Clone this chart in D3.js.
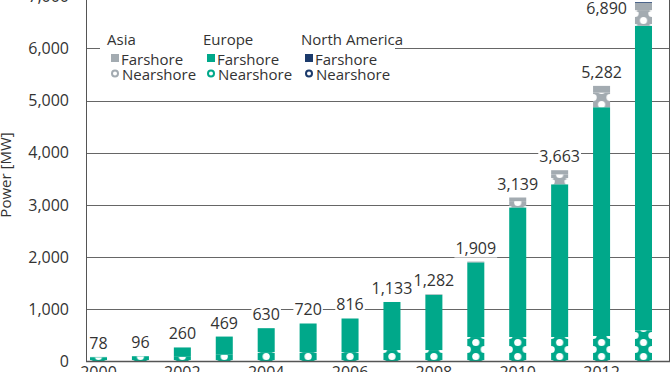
<!DOCTYPE html>
<html>
<head>
<meta charset="utf-8">
<script src="https://cdn.jsdelivr.net/npm/d3@7"></script>
<style>
  body { margin: 0; background: #fff; }
  text { font-family: "Open Sans", sans-serif; fill: #333; }
</style>
</head>
<body>
<svg id="chart" width="672" height="372"></svg>
<script>
// data
const years = [2000, 2001, 2002, 2003, 2004, 2005, 2006, 2007, 2008, 2009, 2010, 2011, 2012, 2013];
const totals = [78, 96, 260, 469, 630, 720, 816, 1133, 1282, 1909, 3139, 3663, 5282, 6890];
const europeNear = [70, 90, 80, 120, 170, 170, 170, 210, 210, 460, 460, 460, 480, 590];
const europeFar = [8, 6, 180, 349, 460, 550, 646, 923, 1062, 1434, 2489, 2933, 4392, 5847];
const asiaNear = [0, 0, 0, 0, 0, 0, 0, 0, 0, 0, 120, 190, 280, 300];
const asiaFar = [0, 0, 0, 0, 0, 0, 0, 0, 10, 15, 70, 80, 130, 138];
const naNear = [0, 0, 0, 0, 0, 0, 0, 0, 0, 0, 0, 0, 0, 0];
const naFar = [0, 0, 0, 0, 0, 0, 0, 0, 0, 0, 0, 0, 0, 15];
const yTicks = [0, 1000, 2000, 3000, 4000, 5000, 6000, 7000];
const xTickYears = [2000, 2002, 2004, 2006, 2008, 2010, 2012];

const GREEN = "#00a88a", GRAY = "#a3abb1", NAVY = "#1b3a6b";

const chart = d3.select("#chart");

// Scales
const xScale = d3.scaleBand()
      .domain(years)
      .range([90, 652])
      .paddingInner(0.594)
      .paddingOuter(0);
const bw = xScale.bandwidth();

const yScale = d3.scaleLinear()
      .domain([0, 7000])
      .range([361, -3.6]);

// patterns (one per region, anchored at each bar's own origin)
const defs = chart.append("defs");
function makePattern(id, color) {
      const p = defs.append("pattern")
            .attr("id", id)
            .attr("patternUnits", "userSpaceOnUse")
            .attr("width", bw)
            .attr("height", 14);
      p.append("rect").attr("width", bw).attr("height", 14).attr("fill", color);
      [[bw / 2, 9.5], [0, 2.5], [bw, 2.5], [0, 16.5], [bw, 16.5]].forEach(c => {
            p.append("circle").attr("cx", c[0]).attr("cy", c[1]).attr("r", 3.6).attr("fill", "#fff");
      });
}
makePattern("pat_eu", GREEN);
makePattern("pat_asia", GRAY);
makePattern("pat_na", NAVY);

// grid
const grid = chart.append("g");
grid.selectAll("line")
      .data(yTicks.filter(d => d > 0))
      .enter().append("line")
      .attr("x1", 86).attr("x2", 670)
      .attr("y1", d => Math.round(yScale(d)) + 0.5)
      .attr("y2", d => Math.round(yScale(d)) + 0.5)
      .attr("stroke", "#666").attr("stroke-width", 1);

// y axis labels
chart.append("g").selectAll("text")
      .data(yTicks)
      .enter().append("text")
      .attr("x", 69)
      .attr("y", d => yScale(d))
      .attr("dy", "0.36em")
      .attr("text-anchor", "end")
      .attr("font-size", "16px")
      .text(d => d3.format(",")(d));

chart.append("text")
      .attr("transform", "translate(11,175) rotate(-90)")
      .attr("text-anchor", "middle")
      .attr("font-size", "15px")
      .text("Power [MW]");

// Generate stacked bars
const layers = [
      { vals: europeNear, fill: "url(#pat_eu)" },
      { vals: europeFar, fill: GREEN },
      { vals: asiaNear, fill: "url(#pat_asia)" },
      { vals: asiaFar, fill: GRAY },
      { vals: naNear, fill: "url(#pat_na)" },
      { vals: naFar, fill: NAVY }
];
const y0 = yScale(0);
years.forEach((yr, i) => {
      const g = chart.append("g")
            .attr("transform", `translate(${xScale(yr)},${y0})`);
      let acc = 0;
      layers.forEach(l => {
            const v = l.vals[i];
            if (v <= 0) return;
            g.append("rect")
                  .attr("x", 0)
                  .attr("width", bw)
                  .attr("y", yScale(acc + v) - y0)
                  .attr("height", yScale(acc) - yScale(acc + v))
                  .attr("fill", l.fill);
            acc += v;
      });
});

// value labels with white background
const labels = chart.append("g");
years.forEach((yr, i) => {
      let cx = xScale(yr) + bw / 2;
      let ty = yScale(totals[i]) - 8;
      let anchor = "middle";
      // no room above the bar: put the label beside it
      if (ty < 16) {
            cx = xScale(yr) - 8;
            ty = 14;
            anchor = "end";
      }
      const t = labels.append("text")
            .attr("x", cx)
            .attr("y", ty)
            .attr("text-anchor", anchor)
            .attr("font-size", "16px")
            .text(d3.format(",")(totals[i]));
      const bb = t.node().getBBox();
      labels.insert("rect", "text")
            .attr("x", bb.x - 1).attr("y", bb.y + 2)
            .attr("width", bb.width + 2).attr("height", bb.height - 3)
            .attr("fill", "#fff");
});

// axes lines
chart.append("line").attr("x1", 86.5).attr("x2", 86.5).attr("y1", 0).attr("y2", 361)
      .attr("stroke", "#555");
chart.append("line").attr("x1", 669.5).attr("x2", 669.5).attr("y1", 0).attr("y2", 361)
      .attr("stroke", "#555");
chart.append("line").attr("x1", 86).attr("x2", 670).attr("y1", 361.5).attr("y2", 361.5)
      .attr("stroke", "#555").attr("stroke-width", 1.5);

// x labels (cut off at bottom)
chart.append("g").selectAll("text")
      .data(xTickYears)
      .enter().append("text")
      .attr("x", d => xScale(d) + bw / 2)
      .attr("y", 378)
      .attr("text-anchor", "middle")
      .attr("font-size", "16px")
      .text(d => d);

// Legend
const legend = chart.append("g");
legend.append("rect")
      .attr("x", 100).attr("y", 28).attr("width", 295).attr("height", 58)
      .attr("fill", "#fff");
const groups = [
      { name: "Asia", x: 107, color: GRAY },
      { name: "Europe", x: 203, color: GREEN },
      { name: "North America", x: 301, color: NAVY }
];
groups.forEach(gr => {
      legend.append("text").attr("x", gr.x).attr("y", 45)
            .attr("font-size", "15px").text(gr.name);
      legend.append("rect").attr("x", gr.x + 4).attr("y", 54)
            .attr("width", 8).attr("height", 8).attr("fill", gr.color);
      legend.append("text").attr("x", gr.x + 14).attr("y", 65)
            .attr("font-size", "15px").text("Farshore");
      legend.append("circle").attr("cx", gr.x + 8).attr("cy", 73.5)
            .attr("r", 3).attr("fill", "none")
            .attr("stroke", gr.color).attr("stroke-width", 2);
      legend.append("text").attr("x", gr.x + 15).attr("y", 79.5)
            .attr("font-size", "15px").text("Nearshore");
});
</script>
</body>
</html>
